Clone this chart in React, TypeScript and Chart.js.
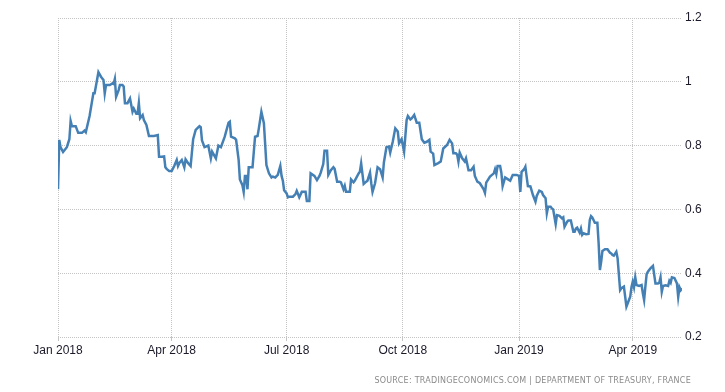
import React, { useEffect, useRef } from "react";
import { Chart, registerables } from "chart.js";

Chart.register(...registerables);

// Days since 1 Jan 2018
const dayOffsets: number[] = [
  0, 1, 2, 4, 7, 9, 10, 11, 14, 16, 19, 21, 22, 25, 28, 29, 32, 34, 36, 37, 38, 40, 41, 43, 44, 45, 46, 48, 49, 51,
  52, 53, 55, 57, 59, 60, 62, 63, 64, 65, 67, 68, 70, 72, 73, 76, 79, 80, 82, 84, 85, 86, 88, 90, 92, 94, 95, 96, 98, 100,
  101, 103, 105, 107, 109, 112, 113, 114, 116, 119, 121, 122, 125, 127, 129, 132, 135, 136, 137, 140, 141, 143, 144, 146, 147, 148, 149, 150, 151, 154,
  156, 158, 159, 161, 163, 165, 167, 169, 170, 172, 174, 176, 177, 178, 179, 181, 182, 183, 186, 188, 189, 191, 193, 196, 197, 199, 200, 203, 205, 207,
  208, 210, 211, 213, 214, 216, 218, 219, 221, 223, 224, 226, 227, 228, 231, 232, 234, 235, 238, 239, 240, 242, 244, 245, 247, 248, 249, 251, 253, 255,
  257, 258, 260, 262, 263, 265, 267, 269, 270, 272, 274, 276, 277, 279, 280, 282, 284, 286, 288, 290, 292, 294, 295, 297, 298, 301, 303, 305, 308, 310,
  312, 313, 315, 316, 317, 318, 320, 322, 323, 325, 327, 329, 330, 332, 334, 337, 338, 339, 342, 345, 346, 347, 348, 350, 351, 352, 354, 356, 358, 360,
  363, 365, 366, 367, 369, 370, 371, 372, 374, 376, 378, 379, 381, 383, 384, 386, 387, 388, 390, 391, 392, 394, 395, 397, 399, 400, 401, 403, 404, 406,
  408, 409, 410, 411, 413, 414, 415, 416, 418, 420, 421, 422, 423, 425, 427, 428, 429, 430, 431, 433, 435, 437, 438, 439, 440, 442, 443, 445, 446, 448,
  450, 452, 453, 454, 455, 456, 457, 458, 460, 462, 463, 464, 465, 466, 467, 469, 471, 473, 475, 476, 477, 478, 479, 481, 483, 484, 485, 486, 488, 490,
  491, 492, 493, 494,
];

const yields: number[] = [
  0.663, 0.818, 0.795, 0.78, 0.795, 0.82, 0.877, 0.861, 0.861, 0.84, 0.84, 0.847, 0.842, 0.893, 0.964, 0.964, 1.03, 1.016, 1.006, 0.964, 0.99, 0.99, 0.99, 0.995, 0.993, 1.009, 0.953, 0.974, 0.99, 0.99,
  0.985, 0.933, 0.933, 0.948, 0.906, 0.916, 0.9, 0.9, 0.933, 0.886, 0.896, 0.88, 0.865, 0.83, 0.83, 0.83, 0.833, 0.765, 0.765, 0.766, 0.732, 0.727, 0.72, 0.72, 0.736, 0.755, 0.736, 0.745, 0.755, 0.732,
  0.757, 0.745, 0.736, 0.82, 0.849, 0.861, 0.858, 0.816, 0.795, 0.8, 0.76, 0.781, 0.76, 0.8, 0.795, 0.828, 0.872, 0.875, 0.828, 0.823, 0.818, 0.755, 0.694, 0.676, 0.655, 0.705, 0.705, 0.663, 0.732, 0.732,
  0.828, 0.83, 0.854, 0.906, 0.87, 0.739, 0.713, 0.7, 0.703, 0.7, 0.708, 0.736, 0.705, 0.69, 0.66, 0.65, 0.638, 0.64, 0.64, 0.648, 0.658, 0.638, 0.655, 0.655, 0.626, 0.626, 0.713, 0.705, 0.692, 0.705,
  0.715, 0.742, 0.784, 0.784, 0.708, 0.723, 0.732, 0.727, 0.687, 0.687, 0.685, 0.663, 0.674, 0.655, 0.655, 0.694, 0.685, 0.69, 0.713, 0.718, 0.744, 0.68, 0.687, 0.69, 0.715, 0.682, 0.655, 0.682, 0.732, 0.726,
  0.7, 0.747, 0.795, 0.797, 0.778, 0.812, 0.854, 0.844, 0.807, 0.82, 0.781, 0.88, 0.893, 0.882, 0.885, 0.896, 0.872, 0.872, 0.82, 0.809, 0.812, 0.818, 0.781, 0.775, 0.739, 0.745, 0.75, 0.791, 0.802, 0.818,
  0.807, 0.776, 0.776, 0.772, 0.75, 0.778, 0.76, 0.75, 0.76, 0.723, 0.723, 0.734, 0.705, 0.687, 0.682, 0.663, 0.652, 0.684, 0.703, 0.713, 0.726, 0.711, 0.736, 0.736, 0.715, 0.673, 0.7, 0.695, 0.69, 0.708,
  0.708, 0.705, 0.655, 0.718, 0.726, 0.734, 0.703, 0.673, 0.672, 0.645, 0.624, 0.642, 0.659, 0.655, 0.645, 0.635, 0.588, 0.608, 0.608, 0.603, 0.6, 0.554, 0.582, 0.58, 0.572, 0.575, 0.546, 0.561, 0.565, 0.565,
  0.53, 0.53, 0.54, 0.543, 0.527, 0.54, 0.52, 0.525, 0.522, 0.523, 0.567, 0.579, 0.575, 0.558, 0.558, 0.494, 0.41, 0.436, 0.47, 0.475, 0.475, 0.464, 0.462, 0.457, 0.455, 0.467, 0.447, 0.347, 0.353, 0.358,
  0.295, 0.316, 0.326, 0.356, 0.373, 0.356, 0.387, 0.363, 0.36, 0.363, 0.337, 0.316, 0.358, 0.397, 0.405, 0.415, 0.423, 0.368, 0.368, 0.37, 0.387, 0.342, 0.36, 0.362, 0.36, 0.376, 0.37, 0.387, 0.385, 0.368,
  0.326, 0.356, 0.347, 0.353,
];

const tickDays: number[] = [0, 90, 181, 273, 365, 455];
const tickLabels: string[] = ["Jan 2018", "Apr 2018", "Jul 2018", "Oct 2018", "Jan 2019", "Apr 2019"];
const yMin = 0.2;
const yMax = 1.2;
const yStep = 0.2;
const xMax = 494;
const sourceText = "SOURCE: TRADINGECONOMICS.COM | DEPARTMENT OF TREASURY, FRANCE";

export default function App() {
  const canvasRef = useRef<HTMLCanvasElement | null>(null);

  useEffect(() => {
    document.body.style.margin = "0";
    const canvas = canvasRef.current;
    if (!canvas) return;
    const points = dayOffsets.map((d, i) => ({ x: d, y: yields[i] }));
    const gridColor = "#c4c4c4";
    const chart = new Chart(canvas, {
      type: "line",
      data: {
        datasets: [
          {
            data: points,
            borderColor: "#4580b5",
            borderWidth: 2.5,
            pointRadius: 0,
            tension: 0,
            fill: false,
          },
        ],
      },
      options: {
        animation: false,
        responsive: false,
        maintainAspectRatio: false,
        layout: { padding: { left: 58, right: 0, top: 18, bottom: 0 } },
        plugins: { legend: { display: false }, tooltip: { enabled: false } },
        scales: {
          x: {
            type: "linear",
            min: 0,
            max: xMax,
            grid: {
              color: gridColor,
              drawTicks: true,
              tickLength: 4,
              tickColor: gridColor,
            },
            border: { display: false, dash: [1, 1] },
            afterBuildTicks: (scale: any) => {
              scale.ticks = tickDays.map((v) => ({ value: v }));
            },
            afterFit: (scale: any) => {
              scale.height = 55;
            },
            ticks: {
              padding: 2,
              color: "#1a1a2a",
              maxRotation: 0,
              autoSkip: false,
              font: { family: "'Liberation Sans', Arial, sans-serif", size: 12 },
              callback: (_v: any, i: number) => tickLabels[i],
            },
          },
          y: {
            position: "right",
            min: yMin,
            max: yMax,
            grid: { color: gridColor, drawTicks: false },
            border: { display: false, dash: [1, 1] },
            afterFit: (scale: any) => {
              scale.width = 43;
            },
            ticks: {
              stepSize: yStep,
              padding: 3,
              color: "#1a1a2a",
              font: { family: "'Liberation Sans', Arial, sans-serif", size: 12 },
              callback: (v: any) => String(Number(Number(v).toFixed(1))),
            },
          },
        },
      } as any,
    });
    return () => chart.destroy();
  }, []);

  return (
    <div style={{ position: "relative", width: 725, height: 392, background: "#fff" }}>
      <canvas ref={canvasRef} width={725} height={392} style={{ display: "block" }} />
      <div
        style={{
          position: "absolute",
          right: 34,
          top: 376,
          fontFamily: "'DejaVu Sans', Verdana, sans-serif",
          fontSize: 8,
          letterSpacing: 0.25,
          color: "#8a8a8a",
          whiteSpace: "nowrap",
          lineHeight: "10px",
        }}
      >
        {sourceText}
      </div>
    </div>
  );
}
